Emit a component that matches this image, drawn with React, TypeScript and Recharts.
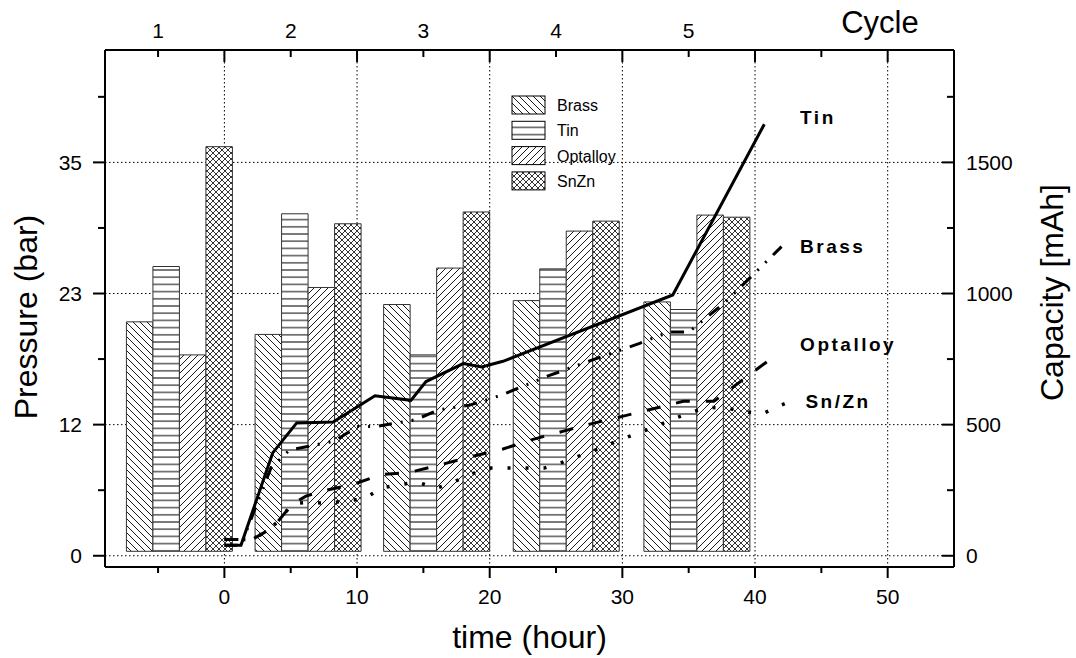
import * as React from 'react';
import { ComposedChart, Bar, Line, XAxis, YAxis, CartesianGrid, Legend, ReferenceDot } from 'recharts';

// bar groups: one per charge cycle, capacity in mAh
const cycleCentres = [-3.37, 6.33, 16.02, 25.79, 35.64];
const brassCap = [892, 844, 958, 973, 968];
const tinCap = [1103, 1304, 766, 1094, 939];
const optalloyCap = [766, 1023, 1097, 1238, 1299];
const snznCap = [1560, 1266, 1311, 1276, 1291];
const BAR_BASE = 17;

// pressure curves, [time (hour), pressure (bar)]
const tinPressure = [
  [0, 0.94], [1.25, 0.94], [3.64, 9.15], [5.45, 11.82], [8.2, 11.9], [11.35, 14.24],
  [14.06, 13.83], [15.2, 15.5], [18.0, 17.1], [19.4, 16.8], [21.0, 17.3], [33.8, 23.2], [40.7, 38.4],
];
const brassPressure = [
  [0, 0.94], [1.25, 0.94], [3.5, 7.8], [4.9, 9.4], [8.3, 10.2], [10.0, 11.5], [11.4, 11.5],
  [14.4, 12.1], [16.2, 13.0], [18.5, 13.4], [20.9, 14.3], [24.4, 16.0], [27.7, 17.4],
  [31.3, 18.9], [33.5, 19.9], [35.0, 19.9], [37.7, 22.5], [42.0, 27.5],
];
const optalloyPressure = [
  [0, 1.45], [2.1, 1.45], [3.2, 2.2], [4.0, 3.0], [5.15, 4.65], [6.15, 5.3], [7.3, 5.74],
  [9.7, 6.34], [11.8, 7.22], [14.0, 7.43], [16.3, 8.1], [18.7, 8.85], [21.0, 9.5],
  [23.2, 10.33], [25.5, 11.07], [27.7, 11.76], [30.0, 12.4], [32.25, 13.06], [34.6, 13.74],
  [36.9, 13.74], [41.4, 17.7],
];
const snznPressure = [
  [0, 1.45], [2.1, 1.45], [3.2, 2.2], [4.0, 3.0], [5.15, 4.65], [6.4, 4.76], [7.8, 4.65],
  [9.2, 4.9], [10.5, 5.06], [11.9, 6.04], [13.2, 6.34], [14.6, 6.54], [16.0, 6.0], [17.4, 6.63],
  [18.7, 7.3], [20.1, 7.8], [24.1, 7.8], [25.2, 8.2], [26.8, 8.9], [28.2, 9.5], [29.6, 10.2],
  [30.9, 10.8], [32.3, 11.4], [33.7, 12.1], [35.0, 12.7], [36.4, 13.2], [37.8, 13.15],
  [39.1, 12.85], [40.5, 12.6], [41.9, 13.36], [43.2, 14.0],
];

const lineLabels = [
  { name: 'Tin', t: 43.4, p: 39.0 },
  { name: 'Brass', t: 43.4, p: 27.5 },
  { name: 'Optalloy', t: 43.4, p: 18.8 },
  { name: 'Sn/Zn', t: 43.8, p: 13.7 },
];

const TIME_DOMAIN = [-9, 55];
const TIME_TICKS = [-5, 0, 5, 10, 15, 20, 25, 30, 35, 40, 45, 50];
const TIME_MAJOR = [0, 10, 20, 30, 40, 50];
const CYCLE_TICKS = [-5, 5, 15, 25, 35];
const CYCLE_LABELS = ['1', '2', '3', '4', '5'];
const PRESSURE_DOMAIN = [-1, 45];
const PRESSURE_TICKS = [0, 5.833, 11.667, 17.5, 23.333, 29.167, 35, 40.833];
const PRESSURE_MAJOR = [0, 11.667, 23.333, 35];
const PRESSURE_LABELS = ['0', '12', '23', '35'];
const CAP_PER_BAR = 1500 / 35;
const CAPACITY_TICKS = [0, 250, 500, 750, 1000, 1250, 1500, 1750];
const CAPACITY_MAJOR = [0, 500, 1000, 1500];

const barRows = cycleCentres.map((t, i) => ({
  t, brass: brassCap[i], tin: tinCap[i], optalloy: optalloyCap[i], snzn: snznCap[i],
}));
const toPoints = (pairs: number[][]) => pairs.map(([t, p]) => ({ t, p }));

const SERIES = [
  { key: 'brass', name: 'Brass' },
  { key: 'tin', name: 'Tin' },
  { key: 'optalloy', name: 'Optalloy' },
  { key: 'snzn', name: 'SnZn' },
];

const FONT = '"Liberation Sans", Arial, Helvetica, sans-serif';
const TICK_FONT = 21;

const hatchDefs = (prefix: string) => (
  <defs>
    <pattern id={`${prefix}-brass`} width={7} height={7} patternUnits="userSpaceOnUse">
      <rect width={7} height={7} fill="#fff" />
      <path d="M0,0 L7,7 M-1,6 L1,8 M6,-1 L8,1" stroke="#000" strokeWidth={0.9} />
    </pattern>
    <pattern id={`${prefix}-tin`} width={7} height={7.2} patternUnits="userSpaceOnUse">
      <rect width={7} height={7.2} fill="#fff" />
      <path d="M0,3.6 L7,3.6" stroke="#000" strokeWidth={1} />
    </pattern>
    <pattern id={`${prefix}-optalloy`} width={7} height={7} patternUnits="userSpaceOnUse">
      <rect width={7} height={7} fill="#fff" />
      <path d="M0,7 L7,0 M-1,1 L1,-1 M6,8 L8,6" stroke="#000" strokeWidth={0.9} />
    </pattern>
    <pattern id={`${prefix}-snzn`} width={6} height={6} patternUnits="userSpaceOnUse">
      <rect width={6} height={6} fill="#fff" />
      <path d="M0,0 L6,6 M-1,5 L1,7 M5,-1 L7,1 M0,6 L6,0 M-1,1 L1,-1 M5,7 L7,5" stroke="#000" strokeWidth={0.8} />
    </pattern>
  </defs>
);

const BottomTick = (props: any) => {
  const { x, y, payload } = props;
  const major = TIME_MAJOR.includes(payload.value);
  return (
    <g>
      <line x1={x} x2={x} y1={y} y2={y + (major ? 11 : 6)} stroke="#000" strokeWidth={2} />
      {major && (
        <text x={x} y={y + 37} textAnchor="middle" fontSize={TICK_FONT} fill="#000">{payload.value}</text>
      )}
    </g>
  );
};

const TopTick = (props: any) => {
  const { x, y, payload } = props;
  const major = TIME_MAJOR.includes(payload.value);
  const idx = CYCLE_TICKS.indexOf(payload.value);
  return (
    <g>
      <line x1={x} x2={x} y1={y} y2={y + (major ? 12 : 7)} stroke="#000" strokeWidth={2} />
      {idx >= 0 && (
        <text x={x} y={y - 12} textAnchor="middle" fontSize={TICK_FONT} fill="#000">{CYCLE_LABELS[idx]}</text>
      )}
    </g>
  );
};

const LeftTick = (props: any) => {
  const { x, y, payload } = props;
  const idx = PRESSURE_MAJOR.indexOf(payload.value);
  return (
    <g>
      <line x1={x - (idx >= 0 ? 12 : 7)} x2={x} y1={y} y2={y} stroke="#000" strokeWidth={2} />
      {idx >= 0 && (
        <text x={x - 23} y={y + 7.5} textAnchor="end" fontSize={TICK_FONT} fill="#000">{PRESSURE_LABELS[idx]}</text>
      )}
    </g>
  );
};

const RightTick = (props: any) => {
  const { x, y, payload } = props;
  const major = CAPACITY_MAJOR.includes(payload.value);
  return (
    <g>
      <line x1={x - (major ? 12 : 7)} x2={x} y1={y} y2={y} stroke="#000" strokeWidth={2} />
      {major && (
        <text x={x + 12} y={y + 7.5} textAnchor="start" fontSize={TICK_FONT} fill="#000">{payload.value}</text>
      )}
    </g>
  );
};

const Title = ({ x, y, text, size = 32, rotate = false }: any) => (
  <text
    x={x}
    y={y}
    textAnchor="middle"
    fontSize={size}
    fill="#000"
    transform={rotate ? `rotate(-90 ${x} ${y})` : undefined}
  >
    {text}
  </text>
);

const LegendBox = () => (
  <svg width={130} height={100} style={{ fontFamily: FONT }}>
    {hatchDefs('lg')}
    {SERIES.map((s, i) => (
      <g key={s.key}>
        <rect x={1} y={1 + i * 25.3} width={33} height={18} fill={`url(#lg-${s.key})`} stroke="#000" strokeWidth={1} />
        <text x={46} y={1 + i * 25.3 + 15} fontSize={16} fill="#000">{s.name}</text>
      </g>
    ))}
  </svg>
);

const LineLabel = ({ viewBox, text }: any) => (
  <text
    x={viewBox.x}
    y={viewBox.y}
    dominantBaseline="central"
    fontSize={19}
    fontWeight="bold"
    letterSpacing={2.5}
    fill="#000"
  >
    {text}
  </text>
);

export default function App() {
  return (
    <div style={{ position: 'absolute', left: 0, top: 0, width: 1076, height: 658, fontFamily: FONT, background: '#fff' }}>
      <ComposedChart
        width={1076}
        height={658}
        data={barRows}
        barGap={0}
        margin={{ top: 0, right: 0, bottom: 0, left: 0 }}
      >
        {hatchDefs('hatch')}
        <CartesianGrid
          xAxisId="time"
          yAxisId="p"
          verticalValues={TIME_MAJOR}
          horizontalValues={PRESSURE_MAJOR}
          stroke="#000"
          strokeDasharray="1.5 2.5"
          strokeWidth={1}
        />
        <XAxis
          xAxisId="time"
          dataKey="t"
          type="number"
          domain={TIME_DOMAIN}
          allowDataOverflow
          ticks={TIME_TICKS}
          interval={0}
          height={91}
          tickSize={0}
          tickMargin={0}
          tickLine={false}
          tick={BottomTick}
          axisLine={{ stroke: '#000', strokeWidth: 2 }}
          label={{
            content: (p: any) => (
              <Title x={p.viewBox.x + p.viewBox.width / 2} y={p.viewBox.y + 80.7} text="time (hour)" />
            ),
          }}
        />
        <XAxis
          xAxisId="cycle"
          orientation="top"
          dataKey="t"
          type="number"
          domain={TIME_DOMAIN}
          allowDataOverflow
          ticks={TIME_TICKS}
          interval={0}
          height={50}
          tickSize={0}
          tickMargin={0}
          tickLine={false}
          tick={TopTick}
          axisLine={{ stroke: '#000', strokeWidth: 2 }}
          label={{
            content: (p: any) => (
              <Title x={p.viewBox.x + 775} y={p.viewBox.y + 32.7} text="Cycle" size={31} />
            ),
          }}
        />
        <YAxis
          yAxisId="p"
          type="number"
          domain={PRESSURE_DOMAIN}
          allowDataOverflow
          ticks={PRESSURE_TICKS}
          interval={0}
          width={105}
          tickSize={0}
          tickMargin={0}
          tickLine={false}
          tick={LeftTick}
          axisLine={{ stroke: '#000', strokeWidth: 2 }}
          label={{
            content: (p: any) => (
              <Title x={p.viewBox.x + 36.5} y={p.viewBox.y + p.viewBox.height / 2 + 8.5} text="Pressure (bar)" rotate />
            ),
          }}
        />
        <YAxis
          yAxisId="cap"
          orientation="right"
          type="number"
          domain={PRESSURE_DOMAIN.map((v) => v * CAP_PER_BAR)}
          allowDataOverflow
          ticks={CAPACITY_TICKS}
          interval={0}
          width={122}
          tickSize={0}
          tickMargin={0}
          tickLine={false}
          tick={RightTick}
          axisLine={{ stroke: '#000', strokeWidth: 2 }}
          label={{
            content: (p: any) => (
              <Title x={p.viewBox.x + 109} y={p.viewBox.y + p.viewBox.height / 2 - 16} text="Capacity [mAh]" rotate />
            ),
          }}
        />
        <Legend
          layout="horizontal"
          verticalAlign="middle"
          align="center"
          wrapperStyle={{ left: 511, top: 95, width: 130, height: 100 }}
          content={() => <LegendBox />}
        />
        {SERIES.map((s) => (
          <Bar
            key={s.key}
            xAxisId="cycle"
            yAxisId="cap"
            name={s.name}
            dataKey={(d: any) => [BAR_BASE, d[s.key]]}
            barSize={26.5}
            fill={`url(#hatch-${s.key})`}
            stroke="#333"
            strokeWidth={1}
            isAnimationActive={false}
          />
        ))}
        <Line
          xAxisId="time"
          yAxisId="p"
          data={toPoints(tinPressure)}
          dataKey="p"
          name="Tin"
          type="linear"
          stroke="#000"
          strokeWidth={3}
          dot={false}
          activeDot={false}
          isAnimationActive={false}
        />
        <Line
          xAxisId="time"
          yAxisId="p"
          data={toPoints(brassPressure)}
          dataKey="p"
          name="Brass"
          type="linear"
          stroke="#000"
          strokeWidth={3}
          strokeDasharray="13 9 2 9 2 9"
          dot={false}
          activeDot={false}
          isAnimationActive={false}
        />
        <Line
          xAxisId="time"
          yAxisId="p"
          data={toPoints(optalloyPressure)}
          dataKey="p"
          name="Optalloy"
          type="linear"
          stroke="#000"
          strokeWidth={3}
          strokeDasharray="14 16"
          dot={false}
          activeDot={false}
          isAnimationActive={false}
        />
        <Line
          xAxisId="time"
          yAxisId="p"
          data={toPoints(snznPressure)}
          dataKey="p"
          name="Sn/Zn"
          type="linear"
          stroke="#000"
          strokeWidth={3.5}
          strokeDasharray="3 15"
          dot={false}
          activeDot={false}
          isAnimationActive={false}
        />
        {lineLabels.map((l) => (
          <ReferenceDot
            key={l.name}
            xAxisId="time"
            yAxisId="p"
            x={l.t}
            y={l.p}
            r={0}
            fill="none"
            stroke="none"
            label={{ content: (p: any) => <LineLabel viewBox={p.viewBox} text={l.name} /> }}
          />
        ))}
      </ComposedChart>
    </div>
  );
}
